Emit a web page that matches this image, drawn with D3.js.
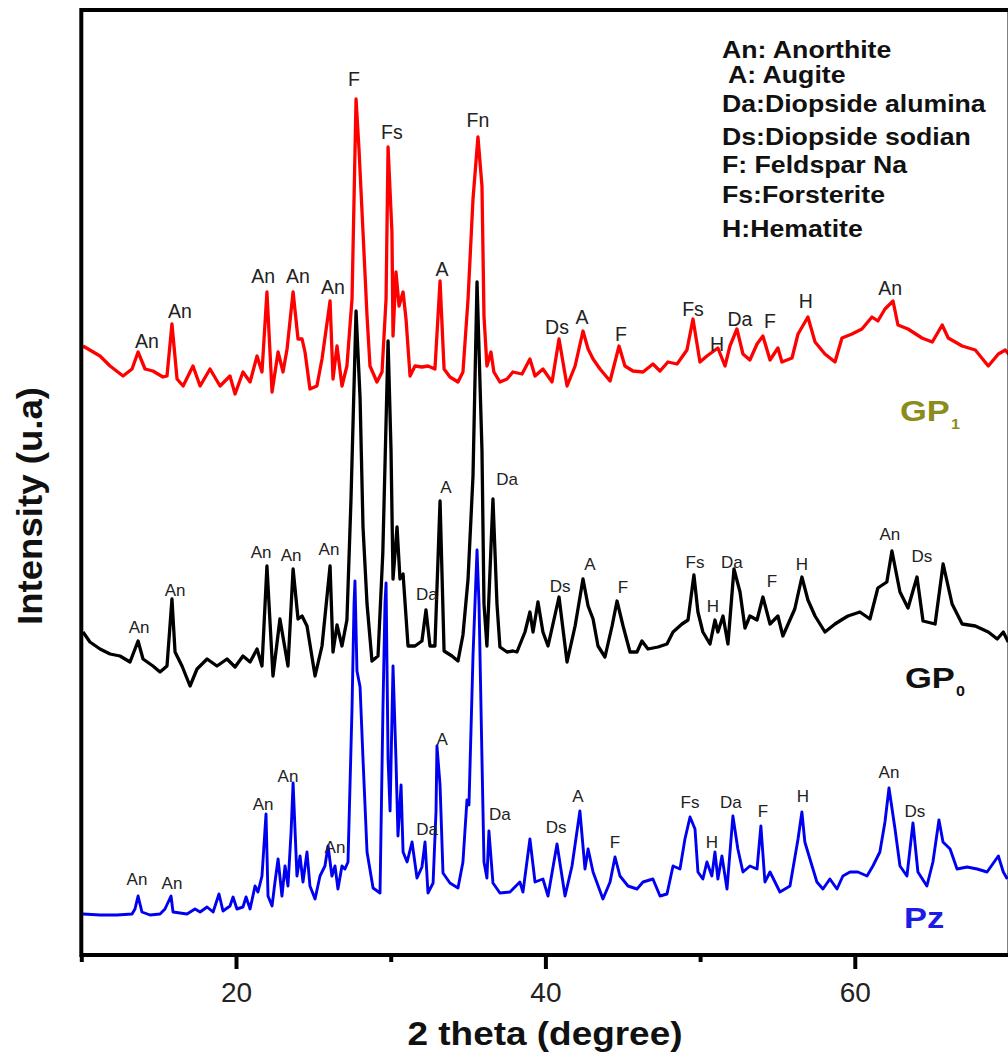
<!DOCTYPE html>
<html>
<head>
<meta charset="utf-8">
<script src="https://cdn.jsdelivr.net/npm/d3@7"></script>
<style>
  body { margin: 0; background: #fff; }
  svg { display: block; font-family: "Liberation Sans", Arial, sans-serif; }
</style>
</head>
<body>
<svg id="chart" width="1008" height="1059"></svg>
<script>
// XRD patterns, [2theta, intensity (a.u.)]
var gp1 = [[10.11,609],[11.21,599],[11.86,589],[12.70,579],[13.28,586],[13.67,603],[14.12,586],[14.63,584],[15.28,578],[15.54,579],[15.86,631],[16.19,576],[16.58,569],[17.22,589],[17.68,569],[18.32,586],[18.97,569],[19.61,579],[19.94,561],[20.45,583],[20.91,573],[21.36,599],[21.68,583],[22.00,663],[22.33,563],[22.72,603],[23.04,583],[23.30,606],[23.69,663],[24.01,616],[24.27,616],[24.46,603],[24.78,566],[25.23,569],[25.56,596],[26.08,654],[26.27,576],[26.53,609],[26.85,569],[27.17,589],[27.50,656],[27.76,856],[27.95,806],[28.21,723],[28.47,639],[28.66,589],[29.11,573],[29.44,583],[29.70,656],[29.83,808],[30.08,723],[30.15,619],[30.34,683],[30.54,649],[30.80,663],[30.99,636],[31.25,579],[31.57,589],[32.02,588],[32.41,589],[32.86,586],[33.19,674],[33.45,586],[33.83,578],[34.35,573],[34.67,583],[35.00,656],[35.32,756],[35.64,818],[35.90,769],[36.03,639],[36.22,589],[36.48,603],[36.67,583],[37.06,573],[37.52,576],[37.90,583],[38.49,581],[39.00,596],[39.33,579],[39.84,586],[40.43,573],[40.88,616],[41.40,569],[41.92,589],[42.43,624],[42.76,606],[43.08,596],[43.53,586],[44.18,574],[44.76,609],[45.14,589],[45.66,584],[46.31,583],[46.95,591],[47.41,584],[47.92,593],[48.51,591],[49.15,605],[49.54,636],[49.99,593],[50.44,599],[51.15,607],[51.61,589],[51.93,609],[52.38,626],[52.77,601],[53.22,595],[53.68,611],[54.06,619],[54.52,595],[55.03,607],[55.29,593],[55.94,597],[56.33,621],[56.97,638],[57.43,613],[58.07,601],[58.72,593],[59.17,617],[59.82,621],[60.46,626],[61.11,638],[61.49,634],[61.95,646],[62.47,654],[62.79,630],[63.44,626],[64.34,617],[65.01,613],[65.65,630],[66.04,617],[66.94,609],[67.79,605],[68.63,589],[69.28,601],[69.73,605],[70.00,600]];

var gp0 = [[10.11,323],[10.56,313],[11.21,306],[11.86,301],[12.50,299],[13.15,293],[13.67,314],[13.99,296],[14.63,289],[15.09,283],[15.54,289],[15.86,356],[16.06,303],[16.51,289],[17.03,269],[17.48,286],[18.13,296],[18.77,289],[19.42,296],[19.94,288],[20.45,299],[20.91,293],[21.36,306],[21.68,289],[22.00,389],[22.39,279],[22.84,336],[23.36,289],[23.69,386],[24.01,336],[24.27,339],[24.59,329],[25.11,279],[25.56,309],[26.08,389],[26.27,303],[26.53,330],[26.85,309],[27.17,335],[27.43,454],[27.76,644],[28.02,557],[28.21,428],[28.47,351],[28.79,294],[29.18,299],[29.49,402],[29.83,614],[30.02,505],[30.15,376],[30.41,428],[30.60,376],[30.80,381],[31.12,309],[31.57,309],[32.02,314],[32.28,345],[32.54,309],[32.86,309],[33.19,454],[33.45,304],[33.96,299],[34.35,294],[34.67,320],[35.00,376],[35.32,479],[35.58,673],[35.90,505],[36.03,351],[36.22,309],[36.61,456],[36.87,351],[37.06,308],[37.52,303],[37.90,304],[38.16,303],[38.68,323],[39.00,343],[39.20,323],[39.52,353],[39.84,323],[40.17,309],[40.88,358],[41.40,293],[41.92,329],[42.43,376],[42.76,349],[43.08,336],[43.40,309],[43.85,298],[44.31,329],[44.63,354],[45.02,329],[45.47,303],[45.92,303],[46.24,314],[46.63,306],[47.28,308],[47.86,311],[48.25,323],[48.83,331],[49.22,335],[49.60,380],[49.86,343],[50.18,323],[50.64,311],[50.96,335],[51.15,323],[51.48,339],[51.80,311],[52.19,386],[52.58,363],[52.90,327],[53.22,339],[53.68,335],[54.06,358],[54.52,331],[55.03,339],[55.35,319],[56.12,346],[56.58,378],[56.97,355],[57.43,339],[58.07,323],[58.72,331],[59.23,336],[59.56,339],[60.33,343],[60.98,336],[61.49,367],[62.07,373],[62.40,404],[62.92,363],[63.44,347],[64.02,378],[64.41,334],[65.19,331],[65.71,391],[66.29,351],[66.94,331],[67.79,329],[68.63,323],[69.21,316],[69.60,323],[69.92,313]];

var pz = [[10.11,41],[11.21,40],[12.31,40],[13.28,41],[13.47,46],[13.67,59],[13.92,43],[14.44,40],[15.09,41],[15.41,46],[15.80,59],[15.93,43],[16.83,41],[17.35,46],[17.68,43],[18.13,48],[18.52,43],[18.90,61],[19.16,44],[19.61,49],[19.81,58],[20.06,46],[20.45,48],[20.65,58],[20.91,46],[21.23,69],[21.42,63],[21.68,79],[21.94,141],[22.07,59],[22.33,49],[22.52,73],[22.72,96],[22.97,59],[23.17,89],[23.36,69],[23.56,123],[23.69,172],[23.94,79],[24.14,99],[24.33,73],[24.59,103],[24.78,69],[25.11,56],[25.43,79],[25.75,89],[25.95,109],[26.20,79],[26.40,89],[26.59,66],[26.85,89],[27.04,86],[27.24,93],[27.50,247],[27.63,351],[27.69,374],[27.82,284],[28.02,268],[28.21,196],[28.47,103],[28.86,67],[29.31,62],[29.50,247],[29.63,351],[29.70,372],[29.83,196],[29.96,144],[30.15,289],[30.34,196],[30.47,119],[30.67,170],[30.80,103],[31.06,93],[31.38,113],[31.70,77],[32.02,88],[32.22,113],[32.41,62],[32.74,72],[32.93,144],[32.99,209],[33.19,170],[33.38,82],[33.83,72],[34.35,67],[34.67,93],[34.93,155],[35.06,150],[35.32,299],[35.58,405],[35.71,351],[35.90,196],[36.03,93],[36.22,77],[36.35,124],[36.61,72],[37.06,62],[37.71,63],[38.35,73],[38.55,63],[39.00,116],[39.33,73],[39.84,76],[40.17,59],[40.75,111],[41.27,59],[41.72,89],[42.23,144],[42.56,86],[42.76,106],[43.08,83],[43.72,56],[44.18,73],[44.50,98],[44.82,79],[45.34,69],[45.92,66],[46.31,73],[46.95,76],[47.41,59],[47.86,61],[48.25,89],[48.70,86],[49.02,116],[49.35,138],[49.67,126],[49.86,83],[50.18,76],[50.44,93],[50.76,79],[50.96,103],[51.15,76],[51.41,99],[51.74,66],[52.12,139],[52.44,106],[52.77,83],[53.22,89],[53.68,86],[53.93,129],[54.19,73],[54.52,83],[55.16,63],[55.81,69],[56.33,116],[56.58,143],[56.77,113],[57.10,96],[57.55,73],[57.94,66],[58.39,76],[58.85,66],[59.23,79],[59.69,83],[60.20,83],[60.79,79],[61.17,89],[61.62,103],[61.95,133],[62.21,167],[62.60,126],[62.92,89],[63.37,79],[63.76,132],[64.08,83],[64.66,69],[65.05,93],[65.44,135],[65.70,113],[66.16,106],[66.61,86],[67.26,88],[67.91,86],[68.55,83],[69.28,99],[69.60,83],[69.86,76]];

// phase labels: [text, 2theta, intensity]
var gp1Labels = [["An",14.24,614],["An",16.38,644],["An",21.75,679],["An",24.01,679],["An",26.27,668],["F",27.63,876],["Fs",30.08,823],["A",33.32,686],["Fn",35.64,835],["Ds",40.75,628],["A",42.37,638],["F",44.89,621],["Fs",49.54,646],["H",51.09,611],["Da",52.58,636],["F",54.52,634],["H",56.84,654],["An",62.28,667]];
var gp0Labels = [["An",13.74,328],["An",16.06,365],["An",21.62,403],["An",23.56,400],["An",26.01,406],["Da",32.34,361],["A",33.57,468],["Da",37.52,476],["Ds",40.95,369],["A",42.88,391],["F",45.02,368],["Fs",49.67,393],["H",50.83,349],["Da",52.06,393],["F",54.65,374],["H",56.58,391],["An",62.27,421],["Ds",64.34,399]];
var pzLabels = [["An",13.60,76],["An",15.86,72],["An",21.75,151],["An",23.36,179],["An",26.40,108],["Da",32.35,126],["A",33.32,216],["Da",37.06,141],["Ds",40.69,128],["A",42.11,159],["F",44.50,113],["Fs",49.35,153],["H",50.77,113],["Da",51.99,153],["F",54.06,144],["H",56.64,159],["An",62.21,183],["Ds",63.89,144]];

var legendItems = ["An: Anorthite", "A: Augite", "Da:Diopside alumina", "Ds:Diopside sodian", "F: Feldspar Na", "Fs:Forsterite", "H:Hematite"];
var xMajorTicks = [20, 40, 60];
var xMinorTicks = [10, 30, 50, 70];

(function () {
  var svg = d3.select("#chart");
  var plotLeft = 81.3, plotRight = 1009.5, plotTop = 10, plotBottom = 955;

  var x = d3.scaleLinear().domain([10, 70]).range([plotLeft, plotRight]);
  var y = d3.scaleLinear().domain([0, 945]).range([plotBottom, plotTop]);

  svg.append("clipPath").attr("id", "plotclip")
    .append("rect").attr("x", plotLeft).attr("y", plotTop)
    .attr("width", plotRight - plotLeft).attr("height", plotBottom - plotTop);

  var line = d3.line().x(function (d) { return x(d[0]); }).y(function (d) { return y(d[1]); });

  var series = [
    { data: gp1, color: "#ff0000", width: 3.3 },
    { data: gp0, color: "#000000", width: 3.3 },
    { data: pz, color: "#0000f0", width: 2.9 }
  ];

  var plot = svg.append("g").attr("clip-path", "url(#plotclip)");
  series.forEach(function (s) {
    plot.append("path")
      .attr("d", line(s.data))
      .attr("fill", "none")
      .attr("stroke", s.color)
      .attr("stroke-width", s.width)
      .attr("stroke-linejoin", "round");
  });

  // peak labels
  function addLabels(labels, size) {
    svg.append("g").selectAll("text").data(labels).enter().append("text")
      .attr("x", function (d) { return x(d[1]); })
      .attr("y", function (d) { return y(d[2]); })
      .attr("dy", "0.36em")
      .attr("text-anchor", "middle")
      .attr("font-size", size)
      .attr("fill", "#222")
      .text(function (d) { return d[0]; });
  }
  addLabels(gp1Labels, 19.5);
  addLabels(gp0Labels, 17);
  addLabels(pzLabels, 17);

  // frame
  svg.append("rect")
    .attr("x", plotLeft).attr("y", plotTop)
    .attr("width", plotRight - plotLeft).attr("height", plotBottom - plotTop)
    .attr("fill", "none").attr("stroke", "#000").attr("stroke-width", 4);

  // x axis ticks
  var xAxis = d3.axisBottom(x).tickValues(xMajorTicks).tickSize(14).tickPadding(13).tickFormat(d3.format("d"));
  var xMinor = d3.axisBottom(x).tickValues(xMinorTicks).tickSize(7).tickFormat("");
  var gx = svg.append("g").attr("transform", "translate(0," + plotBottom + ")").call(xAxis);
  var gxm = svg.append("g").attr("transform", "translate(0," + plotBottom + ")").call(xMinor);
  [gx, gxm].forEach(function (g) {
    g.select(".domain").remove();
    g.selectAll("line").attr("stroke", "#000").attr("stroke-width", 4);
  });
  gx.selectAll("text").attr("font-size", 28).attr("fill", "#222")
    .attr("font-family", "Liberation Sans, Arial, sans-serif");

  // axis titles
  svg.append("text")
    .attr("x", 545).attr("y", 1045)
    .attr("text-anchor", "middle")
    .attr("font-size", 33).attr("font-weight", "bold").attr("fill", "#111")
    .attr("textLength", 275).attr("lengthAdjust", "spacingAndGlyphs")
    .text("2 theta (degree)");

  svg.append("text")
    .attr("transform", "translate(42,506) rotate(-90)")
    .attr("text-anchor", "middle")
    .attr("font-size", 35).attr("font-weight", "bold").attr("fill", "#111")
    .attr("textLength", 238).attr("lengthAdjust", "spacingAndGlyphs")
    .text("Intensity (u.a)");

  // legend of phases
  var legendBaselines = [58, 83, 112, 145, 173, 203, 237];
  svg.append("g").selectAll("text").data(legendItems).enter().append("text")
    .attr("transform", function (d, i) {
      return "translate(" + (i === 1 ? 728 : 722) + "," + legendBaselines[i] + ") scale(1.16,1)";
    })
    .attr("font-size", 23).attr("font-weight", "bold").attr("fill", "#111")
    .text(function (d) { return d; });

  // series names
  function seriesName(name, sub, px, py, color) {
    var t = svg.append("text")
      .attr("transform", "translate(" + px + "," + py + ") scale(1.15,1)")
      .attr("font-size", 30).attr("font-weight", "bold").attr("fill", color);
    t.append("tspan").text(name);
    if (sub) t.append("tspan").attr("font-size", 14).attr("dy", 8).attr("dx", 1).text(sub);
  }
  seriesName("GP", "1", 900, 421, "#8c8c1c");
  seriesName("GP", "0", 905, 688, "#111");
  seriesName("Pz", null, 904, 928, "#1c1ce6");
})();
</script>
</body>
</html>
